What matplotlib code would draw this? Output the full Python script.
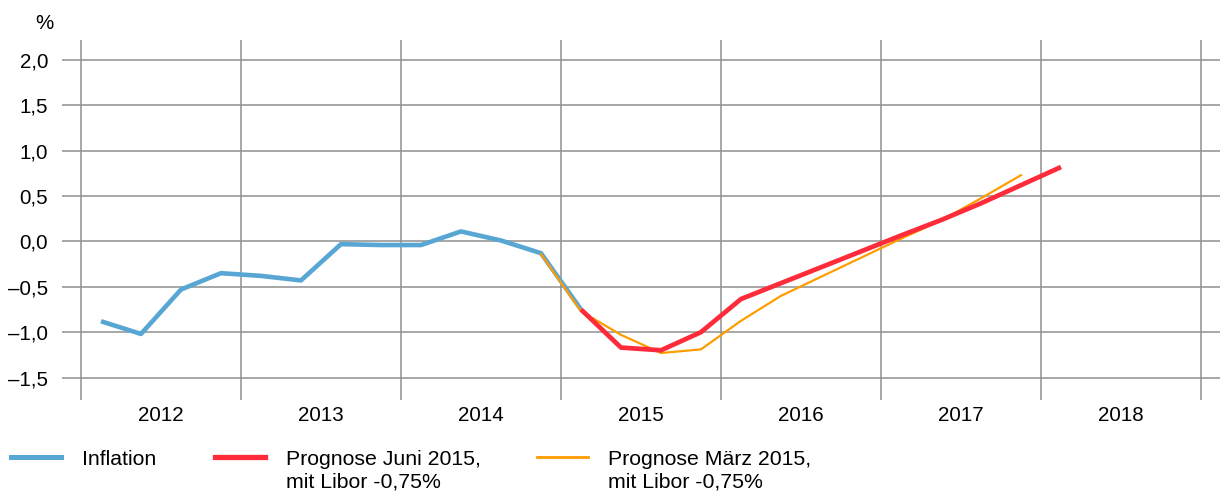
import matplotlib
matplotlib.use("Agg")
import matplotlib.pyplot as plt
from matplotlib.lines import Line2D
from matplotlib.ticker import FixedLocator, FuncFormatter

plt.rcParams['font.family'] = ['Liberation Sans', 'DejaVu Sans']

# quarterly values, x = year + (quarter - 0.5) / 4
inflation_q = ["2012Q1", "2012Q2", "2012Q3", "2012Q4",
               "2013Q1", "2013Q2", "2013Q3", "2013Q4",
               "2014Q1", "2014Q2", "2014Q3", "2014Q4", "2015Q1"]
inflation = [-0.88, -1.02, -0.53, -0.35,
             -0.38, -0.43, -0.03, -0.04,
             -0.04, 0.11, 0.01, -0.13, -0.75]

juni_q = ["2015Q1", "2015Q2", "2015Q3", "2015Q4",
          "2016Q1", "2016Q2", "2016Q3", "2016Q4",
          "2017Q1", "2017Q2", "2017Q3", "2017Q4", "2018Q1"]
juni = [-0.75, -1.17, -1.20, -1.00,
        -0.635, -0.46, -0.285, -0.11,
        0.065, 0.235, 0.42, 0.62, 0.82]

maerz_q = ["2014Q4", "2015Q1", "2015Q2", "2015Q3", "2015Q4",
           "2016Q1", "2016Q2", "2016Q3", "2016Q4",
           "2017Q1", "2017Q2", "2017Q3", "2017Q4"]
maerz = [-0.14, -0.77, -1.03, -1.23, -1.19,
         -0.875, -0.60, -0.39, -0.18,
         0.03, 0.23, 0.475, 0.73]

years = [2012, 2013, 2014, 2015, 2016, 2017, 2018]
y_ticks = [-1.5, -1.0, -0.5, 0.0, 0.5, 1.0, 1.5, 2.0]

legend_labels = ["Inflation",
                 "Prognose Juni 2015,\nmit Libor -0,75%",
                 "Prognose März 2015,\nmit Libor -0,75%"]

c_blue = "#58a6d3"
c_red = "#fe2c3b"
c_orange = "#ff9d00"
grid_c = "#8f8f8f"
fs = 14.8


def qpos(labels):
    return [int(s[:4]) + (int(s[5]) - 0.5) / 4 for s in labels]


W, H = 1220, 491
fig = plt.figure(figsize=(W / 100, H / 100), dpi=100)
ax = fig.add_axes([62 / W, 1 - 400 / H, 1 - 62 / W, 360 / H])

ax.plot(qpos(inflation_q), inflation, color=c_blue, lw=3.3, solid_capstyle="butt", zorder=3)
ax.plot(qpos(maerz_q), maerz, color=c_orange, lw=1.6, zorder=4)
ax.plot(qpos(juni_q), juni, color=c_red, lw=3.4, solid_capstyle="butt", zorder=5)

ax.set_xlim(2012 - 19 / 160, 2019 + 19 / 160)
ax.set_ylim(-1.748, 2.22)

ax.xaxis.set_major_locator(FixedLocator(years + [2019]))
ax.xaxis.set_major_formatter(FuncFormatter(lambda v, p: ""))
ax.set_xticks([y + 0.5 for y in years], [str(y) for y in years], minor=True)
ax.tick_params(axis="x", which="both", length=0, labelsize=fs, pad=4)

ax.set_yticks(y_ticks)
ax.yaxis.set_major_formatter(FuncFormatter(lambda v, p: f"{v:.1f}".replace(".", ",").replace("-", "–")))
ax.tick_params(axis="y", length=0, labelsize=fs, pad=10)

ax.grid(True, which="major", color=grid_c, lw=1.1)
ax.set_axisbelow(True)
for s in ax.spines.values():
    s.set_visible(False)

fig.text(35 / W, 1 - 29 / H, "%", fontsize=fs, va="baseline", ha="left")

# legend
handles = [(11, 61, c_blue, 3.6), (215, 265, c_red, 3.8), (537, 588, c_orange, 2.0)]
text_x = [82, 286, 608]
for (x0, x1, c, lw), tx, lab in zip(handles, text_x, legend_labels):
    fig.add_artist(Line2D([x0 / W, x1 / W], [1 - 457 / H, 1 - 457 / H],
                          color=c, lw=lw, transform=fig.transFigure))
    for i, part in enumerate(lab.split("\n")):
        fig.text(tx / W, 1 - (465 + 23 * i) / H, part, fontsize=15.3,
                 va="baseline", ha="left")

fig.savefig("out.png", dpi=100)
